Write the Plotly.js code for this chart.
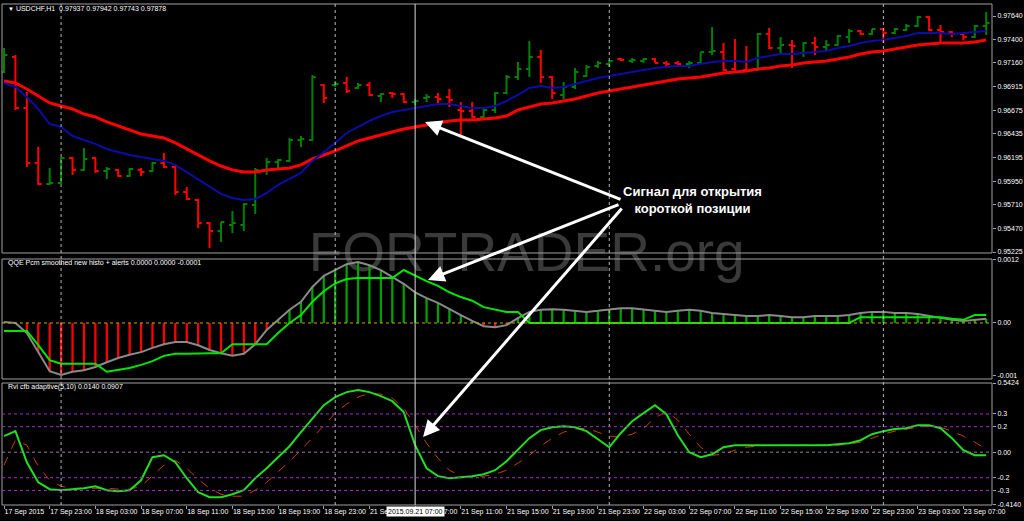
<!DOCTYPE html>
<html>
<head>
<meta charset="utf-8">
<script src="https://cdn.plot.ly/plotly-3.0.1.min.js"></script>
<style>
  html, body { margin: 0; padding: 0; background: #000; }
  #chart { width: 1024px; height: 521px; }
</style>
</head>
<body>
<div id="chart"></div>
<script>
// ---------- DATA ----------
const sessions = [['2015.09.17', 19, 23], ['2015.09.18', 0, 23], ['2015.09.21', 0, 23], ['2015.09.22', 0, 23], ['2015.09.23', 0, 9]];

const tickLabels = ['17 Sep 2015', '17 Sep 23:00', '18 Sep 03:00', '18 Sep 07:00', '18 Sep 11:00', '18 Sep 15:00',
  '18 Sep 19:00', '18 Sep 23:00', '21 Sep 03:00', '21 Sep 07:00', '21 Sep 11:00', '21 Sep 15:00', '21 Sep 19:00',
  '21 Sep 23:00', '22 Sep 03:00', '22 Sep 07:00', '22 Sep 11:00', '22 Sep 15:00', '22 Sep 19:00', '22 Sep 23:00',
  '23 Sep 03:00', '23 Sep 07:00'];

const open = [0.97067,0.97221,0.96699,0.96136,0.95921,0.95932,0.96187,0.96065,0.96187,0.96054,
0.96065,0.96003,0.96065,0.96054,0.96136,0.96095,0.95839,0.95758,0.95522,0.95440,
0.95502,0.95502,0.95706,0.96065,0.96146,0.96157,0.96371,0.96371,0.96934,0.96934,
0.96955,0.96903,0.96934,0.96822,0.96852,0.96842,0.96760,0.96801,0.96811,0.96811,
0.96678,0.96668,0.96607,0.96678,0.96852,0.97016,0.97098,0.97221,0.97016,0.96832,
0.96914,0.97026,0.97128,0.97149,0.97200,0.97180,0.97180,0.97200,0.97159,0.97159,
0.97149,0.97159,0.97272,0.97272,0.97098,0.97088,0.97088,0.97456,0.97313,0.97343,
0.97261,0.97364,0.97323,0.97343,0.97425,0.97487,0.97456,0.97507,0.97466,0.97497,
0.97538,0.97630,0.97497,0.97476,0.97456,0.97425,0.97538];

const high = [0.97313,0.97241,0.96863,0.96300,0.96085,0.96198,0.96198,0.96290,0.96198,0.96095,
0.96075,0.96085,0.96085,0.96146,0.96238,0.96105,0.95891,0.95768,0.95533,0.95533,
0.95645,0.95727,0.96085,0.96187,0.96177,0.96392,0.96412,0.97036,0.96944,0.96975,
0.97016,0.96955,0.96965,0.96852,0.96863,0.96852,0.96791,0.96842,0.96852,0.96893,
0.96760,0.96760,0.96709,0.96863,0.97036,0.97169,0.97384,0.97292,0.97026,0.96965,
0.97108,0.97139,0.97180,0.97190,0.97210,0.97210,0.97210,0.97210,0.97180,0.97180,
0.97180,0.97272,0.97527,0.97364,0.97405,0.97333,0.97466,0.97517,0.97425,0.97394,
0.97374,0.97425,0.97394,0.97446,0.97507,0.97497,0.97507,0.97517,0.97517,0.97558,
0.97640,0.97640,0.97548,0.97487,0.97466,0.97548,0.97681];

const low = [0.97057,0.96678,0.96095,0.95911,0.95911,0.95921,0.96013,0.96054,0.96034,0.95972,
0.95993,0.95993,0.96003,0.96044,0.96085,0.95809,0.95758,0.95471,0.95267,0.95328,
0.95420,0.95440,0.95614,0.96013,0.96065,0.96146,0.96300,0.96361,0.96750,0.96914,
0.96852,0.96893,0.96822,0.96760,0.96801,0.96750,0.96730,0.96760,0.96750,0.96709,
0.96423,0.96597,0.96597,0.96648,0.96842,0.96985,0.97016,0.96955,0.96791,0.96791,
0.96893,0.97016,0.97108,0.97118,0.97180,0.97159,0.97159,0.97159,0.97108,0.97139,
0.97108,0.97149,0.97241,0.97077,0.97057,0.97067,0.97077,0.97302,0.97261,0.97108,
0.97221,0.97241,0.97282,0.97333,0.97364,0.97446,0.97446,0.97364,0.97456,0.97487,
0.97527,0.97487,0.97364,0.97425,0.97394,0.97415,0.97446];

const close = [0.97241,0.96699,0.96136,0.95921,0.95932,0.96187,0.96065,0.96177,0.96054,0.96075,
0.96003,0.96075,0.96044,0.96136,0.96095,0.95839,0.95768,0.95522,0.95440,0.95533,
0.95522,0.95717,0.96065,0.96146,0.96167,0.96371,0.96382,0.97016,0.96801,0.96944,
0.96873,0.96934,0.96832,0.96842,0.96842,0.96760,0.96770,0.96811,0.96791,0.96781,
0.96668,0.96607,0.96678,0.96852,0.97016,0.97098,0.97221,0.97016,0.96852,0.96914,
0.97067,0.97118,0.97159,0.97180,0.97190,0.97190,0.97200,0.97159,0.97149,0.97149,
0.97159,0.97272,0.97282,0.97088,0.97067,0.97077,0.97456,0.97313,0.97343,0.97333,
0.97364,0.97323,0.97343,0.97435,0.97487,0.97456,0.97507,0.97466,0.97507,0.97538,
0.97630,0.97497,0.97476,0.97456,0.97425,0.97538,0.97568];

const slowMA = [0.96975,0.96955,0.96893,0.96822,0.96750,0.96719,0.96689,0.96637,0.96607,0.96556,
0.96515,0.96474,0.96433,0.96412,0.96392,0.96341,0.96279,0.96218,0.96157,0.96105,
0.96065,0.96044,0.96044,0.96065,0.96075,0.96085,0.96116,0.96177,0.96218,0.96259,
0.96310,0.96361,0.96392,0.96423,0.96453,0.96484,0.96504,0.96525,0.96545,0.96566,
0.96576,0.96576,0.96586,0.96597,0.96617,0.96678,0.96709,0.96740,0.96750,0.96770,
0.96791,0.96822,0.96852,0.96873,0.96893,0.96914,0.96934,0.96955,0.96975,0.96996,
0.97006,0.97016,0.97036,0.97057,0.97067,0.97077,0.97098,0.97108,0.97128,0.97139,
0.97159,0.97169,0.97180,0.97200,0.97221,0.97251,0.97272,0.97282,0.97302,0.97323,
0.97343,0.97354,0.97364,0.97364,0.97364,0.97374,0.97394];

const fastMA = [0.96955,0.96914,0.96811,0.96689,0.96535,0.96504,0.96412,0.96371,0.96331,0.96279,
0.96249,0.96218,0.96198,0.96177,0.96157,0.96116,0.96044,0.95972,0.95891,0.95819,
0.95778,0.95758,0.95768,0.95829,0.95911,0.95972,0.96034,0.96157,0.96249,0.96341,
0.96443,0.96504,0.96566,0.96617,0.96658,0.96678,0.96699,0.96719,0.96740,0.96740,
0.96719,0.96699,0.96699,0.96719,0.96770,0.96832,0.96903,0.96924,0.96903,0.96914,
0.96944,0.96975,0.97006,0.97026,0.97047,0.97067,0.97088,0.97108,0.97118,0.97128,
0.97128,0.97149,0.97169,0.97180,0.97180,0.97169,0.97210,0.97231,0.97251,0.97251,
0.97261,0.97272,0.97282,0.97313,0.97333,0.97364,0.97384,0.97394,0.97415,0.97435,
0.97466,0.97466,0.97466,0.97456,0.97466,0.97476,0.97487];

const qqeHisto = [0.00002,0,-0.00019,-0.00055,-0.00091,-0.00098,-0.00092,-0.00089,-0.00083,-0.00074,
-0.00066,-0.00060,-0.00055,-0.00047,-0.00040,-0.00036,-0.00036,-0.00042,-0.00051,-0.00057,
-0.00062,-0.00058,-0.00040,-0.00013,0.00006,0.00025,0.00040,0.00068,0.00089,0.00100,
0.00111,0.00115,0.00109,0.00100,0.00087,0.00074,0.00058,0.00047,0.00038,0.00026,
0.00015,0.00004,-0.00006,-0.00008,-0.00004,0.00009,0.00021,0.00025,0.00026,0.00025,
0.00023,0.00021,0.00023,0.00026,0.00028,0.00028,0.00026,0.00023,0.00021,0.00023,
0.00025,0.00023,0.00019,0.00017,0.00015,0.00013,0.00013,0.00015,0.00013,0.00011,
0.00011,0.00013,0.00013,0.00013,0.00015,0.00019,0.00021,0.00021,0.00019,0.00019,
0.00017,0.00013,0.00009,0.00006,0.00004,0.00006,0.00008];

const qqeSignal = [-0.00015,-0.00015,-0.00015,-0.00042,-0.00070,-0.00077,-0.00077,-0.00077,-0.00077,-0.00092,
-0.00089,-0.00085,-0.00079,-0.00072,-0.00062,-0.00058,-0.00058,-0.00057,-0.00057,-0.00057,
-0.00040,-0.00040,-0.00040,-0.00040,-0.00019,0,0.00015,0.00040,0.00060,0.00075,
0.00083,0.00085,0.00085,0.00085,0.00085,0.00100,0.00089,0.00079,0.00070,0.00058,
0.00049,0.00042,0.00030,0.00025,0.00021,0.00021,0,0,0,0,
0,0,0,0,0,0,0,0,0,0,
0,0,0,0,0,0,0,0,0,0,
0,0,0,0,0,0.00011,0.00011,0.00011,0.00011,0.00011,
0.00011,0.00011,0.00011,0.00008,0.00006,0.00015,0.00015];

const rvi = [0.126,0.165,-0.079,-0.236,-0.290,-0.298,-0.290,-0.283,-0.267,-0.298,
-0.306,-0.298,-0.220,-0.039,-0.024,-0.079,-0.204,-0.314,-0.353,-0.353,
-0.330,-0.298,-0.204,-0.126,-0.039,0.047,0.157,0.267,0.369,0.432,
0.471,0.487,0.471,0.440,0.400,0.314,0.055,-0.126,-0.188,-0.204,
-0.196,-0.188,-0.173,-0.141,-0.071,0.016,0.110,0.173,0.196,0.204,
0.196,0.165,0.102,0.039,0.149,0.243,0.306,0.369,0.298,0.133,
0,-0.039,-0.016,0.039,0.055,0.055,0.055,0.055,0.055,0.055,
0.055,0.055,0.055,0.063,0.071,0.094,0.141,0.165,0.181,0.188,
0.212,0.212,0.188,0.110,0.016,-0.024,-0.024];

const rviSignal = [-0.102,0.094,0.055,-0.110,-0.220,-0.267,-0.283,-0.283,-0.283,-0.283,
-0.290,-0.290,-0.267,-0.181,-0.102,-0.063,-0.126,-0.212,-0.283,-0.330,
-0.345,-0.345,-0.298,-0.236,-0.157,-0.071,0.016,0.110,0.212,0.306,
0.377,0.432,0.463,0.455,0.424,0.345,0.212,0.071,-0.047,-0.141,
-0.188,-0.196,-0.188,-0.173,-0.141,-0.086,-0.024,0.047,0.110,0.157,
0.181,0.188,0.157,0.126,0.118,0.141,0.188,0.267,0.322,0.251,
0.141,0.039,-0.024,-0.016,0.016,0.039,0.047,0.055,0.055,0.055,
0.055,0.055,0.055,0.055,0.063,0.079,0.110,0.141,0.165,0.181,
0.196,0.204,0.196,0.165,0.126,0.079,0.024];

const priceTicks = [0.97640, 0.97400, 0.97160, 0.96915, 0.96675, 0.96435, 0.96195, 0.95950, 0.95710, 0.95470, 0.95225];
const qqeTicks = [0.0012, 0, -0.001];
const qqeTickText = ['0.0012', '0.00', '-0.001'];
const rviLevels = [0.3, 0.2, 0, -0.2, -0.3];
const rviTicks = [0.5424, 0.3, 0.2, 0, -0.2, -0.3, -0.4140];
const rviTickText = ['0.5424', '0.3', '0.2', '0.00', '-0.2', '-0.3', '-0.4140'];

const headerPrice = 'USDCHF,H1  0.97937 0.97942 0.97743 0.97878';
const headerQQE = 'QQE Pcm smoothed new histo + alerts 0.0000 0.0000 -0.0001';
const headerRVI = 'Rvi cfb adaptive(5,10) 0.0140 0.0907';
const crosshairLabel = '2015.09.21 07:00';
const signalText = 'Сигнал для открытия<br>короткой позиции';
const watermark = 'FORTRADER.org';

// ---------- BUILD ----------
const barTimes = [];
sessions.forEach(([d, h0, h1]) => { for (let h = h0; h <= h1; h++) barTimes.push({ d, h, label: d + ' ' + String(h).padStart(2, '0') + ':00' }); });
const xs = barTimes.map((_, i) => i);
const tickBars = tickLabels.map((_, i) => i * 4);
const daySeps = xs.filter(i => barTimes[i].h === 0);
const crossBar = barTimes.findIndex(b => b.label === crosshairLabel);

const FONT = 'Liberation Sans, Arial, sans-serif';
const AX = '#a0a0a0';
const DOM1 = [0.503, 1], DOM2 = [0.2515, 0.491], DOM3 = [0, 0.2435];

const traces = [
  { type: 'ohlc', x: xs, open, high, low, close, xaxis: 'x', yaxis: 'y', tickwidth: 0.3,
    increasing: { line: { color: '#008000', width: 2 } }, decreasing: { line: { color: '#ff0000', width: 2 } },
    hoverinfo: 'skip', showlegend: false },
  { type: 'scatter', mode: 'lines', x: xs, y: slowMA, xaxis: 'x', yaxis: 'y', line: { color: '#ff0000', width: 3 }, hoverinfo: 'skip', showlegend: false },
  { type: 'scatter', mode: 'lines', x: xs, y: fastMA, xaxis: 'x', yaxis: 'y', line: { color: '#0c0ca8', width: 2 }, hoverinfo: 'skip', showlegend: false },
  { type: 'bar', x: xs, y: qqeHisto, xaxis: 'x', yaxis: 'y2', width: 0.2,
    marker: { color: qqeHisto.map(v => v < 0 ? '#ff0000' : '#00a000'), line: { width: 0 } }, hoverinfo: 'skip', showlegend: false },
  { type: 'scatter', mode: 'lines', x: xs, y: qqeHisto, xaxis: 'x', yaxis: 'y2', line: { color: '#8a8a8a', width: 2 }, hoverinfo: 'skip', showlegend: false },
  { type: 'scatter', mode: 'lines', x: xs, y: qqeSignal, xaxis: 'x', yaxis: 'y2', line: { color: '#00e600', width: 2 }, hoverinfo: 'skip', showlegend: false },
  { type: 'scatter', mode: 'lines', x: xs, y: rviSignal, xaxis: 'x', yaxis: 'y3', line: { color: '#c84000', width: 1, dash: 'dash' }, hoverinfo: 'skip', showlegend: false },
  { type: 'scatter', mode: 'lines', x: xs, y: rvi, xaxis: 'x', yaxis: 'y3', line: { color: '#22dd22', width: 2 }, hoverinfo: 'skip', showlegend: false }
];

const tickFont = { family: FONT, size: 7, color: '#ffffff' };
const yBase = { side: 'right', anchor: 'x', ticks: 'outside', ticklen: 3, tickcolor: AX, tickfont: tickFont,
  showgrid: false, zeroline: false, showline: false, fixedrange: true };

const shapes = [];
[DOM1, DOM2, DOM3].forEach(d => shapes.push({ type: 'rect', xref: 'paper', yref: 'paper', x0: 0, x1: 1, y0: d[0], y1: d[1], line: { color: AX, width: 1 }, fillcolor: 'rgba(0,0,0,0)' }));
daySeps.forEach(b => shapes.push({ type: 'line', xref: 'x', yref: 'paper', x0: b, x1: b, y0: 0, y1: 1, line: { color: '#b8b8b8', width: 1, dash: 'dot' } }));
shapes.push({ type: 'line', xref: 'x', yref: 'paper', x0: crossBar, x1: crossBar, y0: 0, y1: 1, line: { color: '#d8d8d8', width: 1 } });
shapes.push({ type: 'line', xref: 'paper', yref: 'y2', x0: 0, x1: 1, y0: 0, y1: 0, line: { color: '#c8a800', width: 1, dash: 'dot' } });
rviLevels.forEach(v => shapes.push({ type: 'line', xref: 'paper', yref: 'y3', x0: 0, x1: 1, y0: v, y1: v, line: { color: v === 0 ? '#9a7aaa' : '#a030c8', width: 1, dash: 'dot' } }));
shapes.push({ type: 'rect', xref: 'paper', yref: 'paper', x0: 0.25, x1: 0.81, y0: 0.44, y1: 0.59, layer: 'below',
  line: { width: 0 }, fillcolor: 'rgba(0,0,0,0)',
  label: { text: watermark, font: { family: 'Liberation Sans, Arial, sans-serif', size: 55, color: '#3a3a3a' }, textposition: 'middle center' } });

const hdr = (text, y, yshift) => ({ xref: 'paper', yref: 'paper', x: 0.004, y, xanchor: 'left', yanchor: 'top', yshift,
  text, showarrow: false, font: { family: FONT, size: 7, color: '#ffffff' } });

const arrow = (x, y, ax, ay) => ({ xref: 'paper', yref: 'paper', x, y, ax, ay, axref: 'pixel', ayref: 'pixel', text: '',
  showarrow: true, arrowhead: 2, arrowsize: 1.1, arrowwidth: 3, arrowcolor: '#ffffff', standoff: 0 });

const annotations = [
  hdr('<span style="font-size:6px">▼</span> ' + headerPrice, DOM1[1], 1),
  hdr(headerQQE, DOM2[1], 2),
  hdr(headerRVI, DOM3[1], 2),
  arrow(0.4273, 0.7645, 197, 78),
  arrow(0.4303, 0.4491, 192, -76),
  arrow(0.4253, 0.1357, 200, -230),
  { xref: 'paper', yref: 'paper', x: 0.697, y: 0.6088, xanchor: 'center', yanchor: 'middle', showarrow: false,
    text: '<b>' + signalText + '</b>', align: 'center', font: { family: 'Liberation Sans, Arial, sans-serif', size: 13, color: '#ffffff' } },
  { xref: 'x', yref: 'paper', x: crossBar, y: 0, xanchor: 'center', yanchor: 'top', yshift: -1, showarrow: false,
    text: crosshairLabel, bgcolor: '#ffffff', borderpad: 1, font: { family: FONT, size: 7, color: '#000000' } }
];

const layout = {
  width: 1024, height: 521,
  margin: { l: 2, r: 32, t: 4, b: 16 },
  paper_bgcolor: '#000000', plot_bgcolor: 'rgba(0,0,0,0)',
  showlegend: false, dragmode: false, hovermode: false,
  xaxis: { domain: [0, 1], range: [-0.175, 86.51], anchor: 'y3', tickvals: tickBars, ticktext: tickLabels, tickangle: 0,
    ticks: 'outside', ticklen: 3, tickcolor: AX, ticklabelposition: 'outside right', tickfont: tickFont,
    showgrid: false, zeroline: false, showline: false, rangeslider: { visible: false }, fixedrange: true },
  yaxis: Object.assign({}, yBase, { domain: DOM1, range: [0.952148, 0.977628], tickvals: priceTicks, tickformat: '.5f' }),
  yaxis2: Object.assign({}, yBase, { domain: DOM2, range: [-0.001057, 0.001208], tickvals: qqeTicks, ticktext: qqeTickText }),
  yaxis3: Object.assign({}, yBase, { domain: DOM3, range: [-0.4140, 0.5424], tickvals: rviTicks, ticktext: rviTickText }),
  shapes, annotations
};

Plotly.newPlot('chart', traces, layout, { staticPlot: true, displayModeBar: false });
</script>
</body>
</html>
